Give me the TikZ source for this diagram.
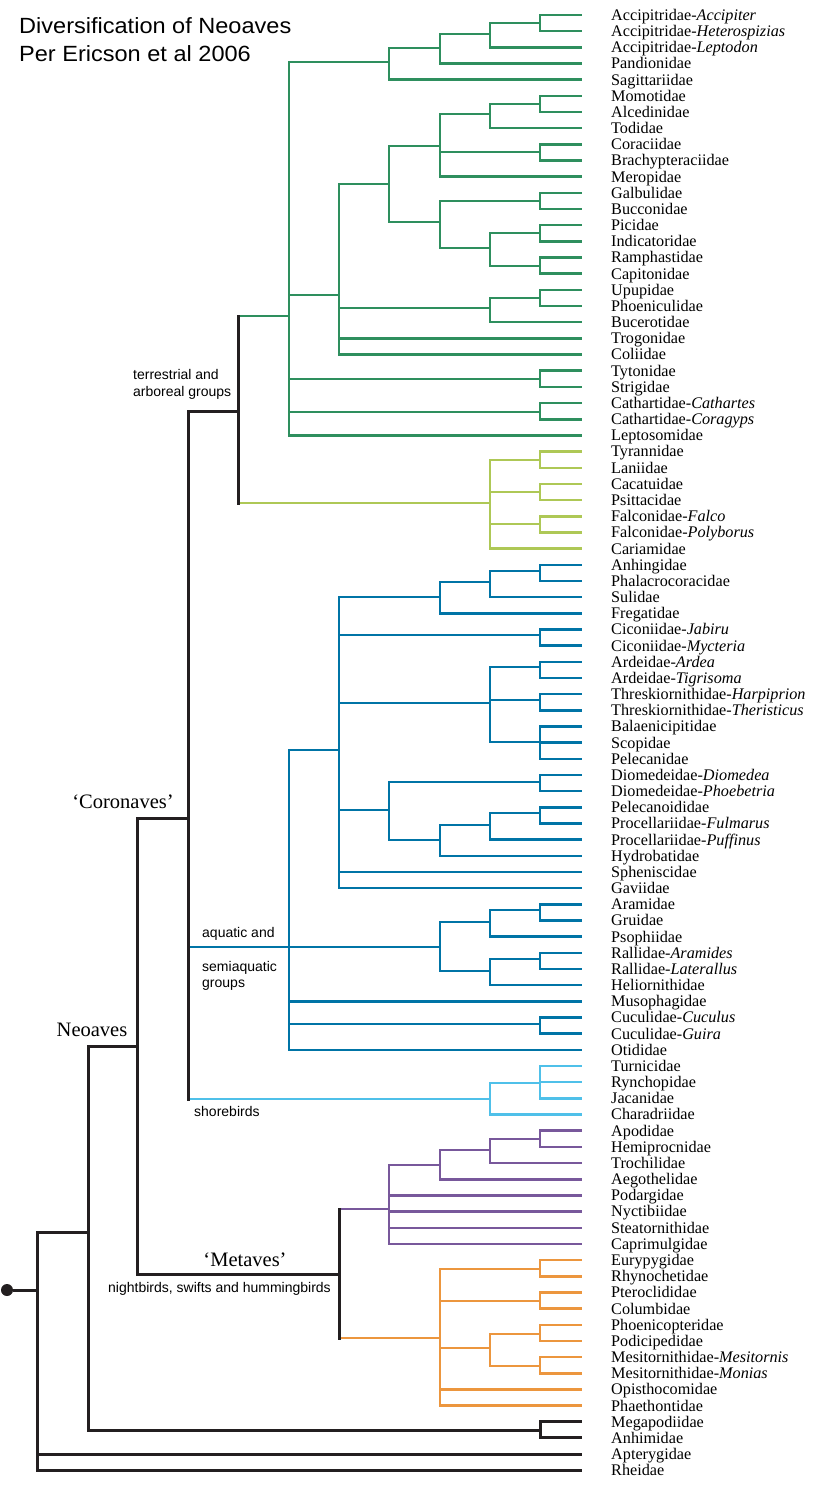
\documentclass[tikz,border=0pt]{standalone}
\usepackage{fontspec}
\setmainfont{Liberation Serif}
\newfontfamily\arialf{Liberation Sans}
\newfontfamily\titlef[FakeStretch=1.07]{Liberation Sans}
\definecolor{cbk}{RGB}{35,31,32}
\definecolor{cgr}{RGB}{46,143,94}
\definecolor{cyg}{RGB}{174,200,86}
\definecolor{cbl}{RGB}{0,116,166}
\definecolor{clb}{RGB}{79,192,233}
\definecolor{cpu}{RGB}{120,88,155}
\definecolor{cor}{RGB}{236,150,62}
\newcommand{\treekids}[3]{\foreach \c in {#3}{\draw[#1] (#2) |- (\c);}}
\begin{document}
\begin{tikzpicture}[x=1pt,y=-1pt,
  lnbk/.style={draw=cbk,line width=3pt},
  lngr/.style={draw=cgr,line width=2.5pt},
  lnyg/.style={draw=cyg,line width=2.5pt},
  lnbl/.style={draw=cbl,line width=2.5pt},
  lnlb/.style={draw=clb,line width=2.5pt},
  lnpu/.style={draw=cpu,line width=2.5pt},
  lnor/.style={draw=cor,line width=2.5pt},
  leaf/.style={anchor=base west,inner sep=0pt,font=\fontsize{16.2}{18}\selectfont},
  grp/.style={anchor=base west,inner sep=0pt,font=\arialf\fontsize{14}{16}\selectfont},
  cladelab/.style={anchor=base,inner sep=0pt,font=\fontsize{20.5}{22}\selectfont},
  ttl/.style={anchor=base west,inner sep=0pt,font=\titlef\fontsize{22}{26}\selectfont}]
\useasboundingbox (0,0) rectangle (816,1486);

% title
\node[ttl] (title1) at (19,33) {Diversification of Neoaves};
\node[ttl] (title2) at (19,61) {Per Ericson et al 2006};

% leaves
\foreach \n [count=\i] in {Accipitridae-\textit{Accipiter},Accipitridae-\textit{Heterospizias},Accipitridae-\textit{Leptodon},Pandionidae,Sagittariidae,Momotidae,Alcedinidae,Todidae,Coraciidae,Brachypteraciidae,Meropidae,Galbulidae,Bucconidae,Picidae,Indicatoridae,Ramphastidae,Capitonidae,Upupidae,Phoeniculidae,Bucerotidae,Trogonidae,Coliidae,Tytonidae,Strigidae,Cathartidae-\textit{Cathartes},Cathartidae-\textit{Coragyps},Leptosomidae,Tyrannidae,Laniidae,Cacatuidae,Psittacidae,Falconidae-\textit{Falco},Falconidae-\textit{Polyborus},Cariamidae,Anhingidae,Phalacrocoracidae,Sulidae,Fregatidae,Ciconiidae-\textit{Jabiru},Ciconiidae-\textit{Mycteria},Ardeidae-\textit{Ardea},Ardeidae-\textit{Tigrisoma},Threskiornithidae-\textit{Harpiprion},Threskiornithidae-\textit{Theristicus},Balaenicipitidae,Scopidae,Pelecanidae,Diomedeidae-\textit{Diomedea},Diomedeidae-\textit{Phoebetria},Pelecanoididae,Procellariidae-\textit{Fulmarus},Procellariidae-\textit{Puffinus},Hydrobatidae,Spheniscidae,Gaviidae,Aramidae,Gruidae,Psophiidae,Rallidae-\textit{Aramides},Rallidae-\textit{Laterallus},Heliornithidae,Musophagidae,Cuculidae-\textit{Cuculus},Cuculidae-\textit{Guira},Otididae,Turnicidae,Rynchopidae,Jacanidae,Charadriidae,Apodidae,Hemiprocnidae,Trochilidae,Aegothelidae,Podargidae,Nyctibiidae,Steatornithidae,Caprimulgidae,Eurypygidae,Rhynochetidae,Pteroclididae,Columbidae,Phoenicopteridae,Podicipedidae,Mesitornithidae-\textit{Mesitornis},Mesitornithidae-\textit{Monias},Opisthocomidae,Phaethontidae,Megapodiidae,Anhimidae,Apterygidae,Rheidae}{
  \coordinate (t\i) at (582,{15+(\i-1)*16.17});
  \node[leaf] (L\i) at (611,{15+(\i-1)*16.17+5.4}) {\n};
}

% internal nodes: green
\coordinate (g1) at (540,23);
\coordinate (g2) at (490,34);
\coordinate (g3) at (440,48);
\coordinate (g4) at (389,62);
\coordinate (g5) at (540,104);
\coordinate (g6) at (490,114);
\coordinate (g7) at (540,152);
\coordinate (g8) at (440,146);
\coordinate (g9) at (540,201);
\coordinate (g10) at (540,233);
\coordinate (g11) at (540,266);
\coordinate (g12) at (490,248);
\coordinate (g13) at (440,222);
\coordinate (g14) at (389,184);
\coordinate (g15) at (540,298);
\coordinate (g16) at (490,308);
\coordinate (g17) at (339,295);
\coordinate (g18) at (540,379);
\coordinate (g19) at (540,412);
\coordinate (G) at (289,316);
% yellow-green
\coordinate (y1) at (540,460);
\coordinate (y2) at (540,492);
\coordinate (y3) at (540,524);
\coordinate (Y) at (490,503);
\coordinate (T) at (238,411);
% blue
\coordinate (b1) at (540,571);
\coordinate (b2) at (490,582);
\coordinate (b3) at (440,597);
\coordinate (b4) at (540,635);
\coordinate (b5) at (540,667);
\coordinate (b6) at (540,700);
\coordinate (b7) at (540,742);
\coordinate (b8) at (490,703);
\coordinate (b9) at (540,782);
\coordinate (b10) at (540,813);
\coordinate (b11) at (490,825);
\coordinate (b12) at (440,840);
\coordinate (b13) at (389,810);
\coordinate (b14) at (339,750);
\coordinate (b15) at (540,910);
\coordinate (b16) at (490,922);
\coordinate (b17) at (540,959);
\coordinate (b18) at (490,971);
\coordinate (b19) at (440,947);
\coordinate (b20) at (540,1024);
\coordinate (B) at (289,947);
% shorebirds
\coordinate (s1) at (540,1083);
\coordinate (S) at (490,1099);
\coordinate (C) at (188,818);
% purple
\coordinate (p1) at (540,1139);
\coordinate (p2) at (490,1150);
\coordinate (p3) at (440,1165);
\coordinate (P) at (389,1209);
% orange
\coordinate (o1) at (540,1269);
\coordinate (o2) at (540,1301);
\coordinate (o3) at (540,1334);
\coordinate (o4) at (540,1366);
\coordinate (o5) at (490,1348);
\coordinate (O) at (440,1338);
\coordinate (M) at (339,1274);
% base
\coordinate (N) at (137,1046);
\coordinate (k1) at (540,1430);
\coordinate (N2) at (88,1232);
\coordinate (R) at (37,1290);
\node[circle,fill=cbk,minimum size=12pt,inner sep=0pt] (root) at (7,1290) {};

% green edges
\treekids{lngr}{g1}{t1,t2}
\treekids{lngr}{g2}{g1,t3}
\treekids{lngr}{g3}{g2,t4}
\treekids{lngr}{g4}{g3,t5}
\treekids{lngr}{g5}{t6,t7}
\treekids{lngr}{g6}{g5,t8}
\treekids{lngr}{g7}{t9,t10}
\treekids{lngr}{g8}{g6,g7,t11}
\treekids{lngr}{g9}{t12,t13}
\treekids{lngr}{g10}{t14,t15}
\treekids{lngr}{g11}{t16,t17}
\treekids{lngr}{g12}{g10,g11}
\treekids{lngr}{g13}{g9,g12}
\treekids{lngr}{g14}{g8,g13}
\treekids{lngr}{g15}{t18,t19}
\treekids{lngr}{g16}{g15,t20}
\treekids{lngr}{g17}{g14,g16,t21,t22}
\treekids{lngr}{g18}{t23,t24}
\treekids{lngr}{g19}{t25,t26}
\treekids{lngr}{G}{g4,g17,g18,g19,t27}
% yellow-green edges
\treekids{lnyg}{y1}{t28,t29}
\treekids{lnyg}{y2}{t30,t31}
\treekids{lnyg}{y3}{t32,t33}
\treekids{lnyg}{Y}{y1,y2,y3,t34}
% blue edges
\treekids{lnbl}{b1}{t35,t36}
\treekids{lnbl}{b2}{b1,t37}
\treekids{lnbl}{b3}{b2,t38}
\treekids{lnbl}{b4}{t39,t40}
\treekids{lnbl}{b5}{t41,t42}
\treekids{lnbl}{b6}{t43,t44}
\treekids{lnbl}{b7}{t45,t46,t47}
\treekids{lnbl}{b8}{b5,b6,b7}
\treekids{lnbl}{b9}{t48,t49}
\treekids{lnbl}{b10}{t50,t51}
\treekids{lnbl}{b11}{b10,t52}
\treekids{lnbl}{b12}{b11,t53}
\treekids{lnbl}{b13}{b9,b12}
\treekids{lnbl}{b14}{b3,b4,b8,b13,t54,t55}
\treekids{lnbl}{b15}{t56,t57}
\treekids{lnbl}{b16}{b15,t58}
\treekids{lnbl}{b17}{t59,t60}
\treekids{lnbl}{b18}{b17,t61}
\treekids{lnbl}{b19}{b16,b18}
\treekids{lnbl}{b20}{t63,t64}
\treekids{lnbl}{B}{b14,b19,t62,b20,t65}
% shorebird edges
\treekids{lnlb}{s1}{t66,t67,t68}
\treekids{lnlb}{S}{s1,t69}
% purple edges
\treekids{lnpu}{p1}{t70,t71}
\treekids{lnpu}{p2}{p1,t72}
\treekids{lnpu}{p3}{p2,t73}
\treekids{lnpu}{P}{p3,t74,t75,t76,t77}
% orange edges
\treekids{lnor}{o1}{t78,t79}
\treekids{lnor}{o2}{t80,t81}
\treekids{lnor}{o3}{t82,t83}
\treekids{lnor}{o4}{t84,t85}
\treekids{lnor}{o5}{o3,o4}
\treekids{lnor}{O}{o1,o2,o5,t86,t87}

% black backbone with coloured stems
\draw[lngr] (T |- G) -- (G);
\draw[lnyg] (T |- Y) -- (Y);
\draw[lnbk,line cap=rect] (T |- G) -- (T |- Y);
\draw[lnbk] (C |- T) -- (T);
\draw[lnbl] (C |- B) -- (B);
\draw[lnlb] (C |- S) -- (S);
\draw[lnbk,line cap=rect] (C |- T) -- (C |- S);
\draw[lnpu] (M |- P) -- (P);
\draw[lnor] (M |- O) -- (O);
\draw[lnbk,line cap=rect] (M |- P) -- (M |- O);
\treekids{lnbk}{N}{C,M}
\treekids{lnbk}{k1}{t88,t89}
\treekids{lnbk}{N2}{N,k1}
\treekids{lnbk}{R}{N2,t90,t91}
\draw[lnbk] (root) -- (R);

% group labels
\node[grp] (lterr1) at (133,379) {terrestrial and};
\node[grp] (lterr2) at (133,396) {arboreal groups};
\node[grp] (laq1) at (202,937) {aquatic and};
\node[grp] (laq2) at (202,971) {semiaquatic};
\node[grp] (laq3) at (202,987) {groups};
\node[grp] (lshore) at (194,1116) {shorebirds};
\node[grp] (lnight) at (108,1292) {nightbirds, swifts and hummingbirds};
\node[cladelab] (lcoro) at (123,808) {‘Coronaves’};
\node[cladelab] (lneo) at (92,1036) {Neoaves};
\node[cladelab] (lmeta) at (245,1266) {‘Metaves’};
\end{tikzpicture}
\end{document}
